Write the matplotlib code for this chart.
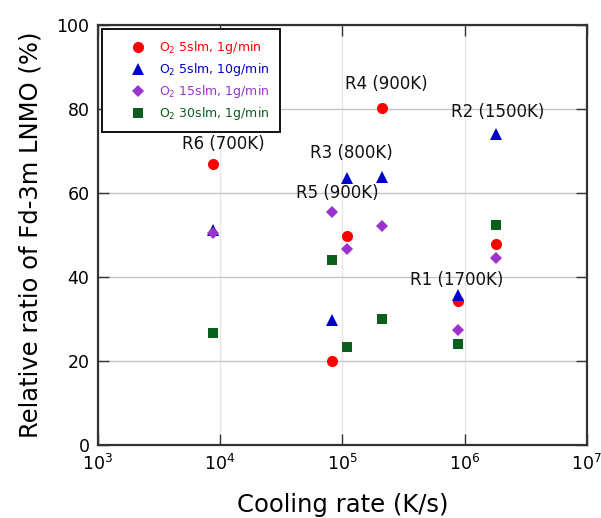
import matplotlib
matplotlib.use("Agg")
import matplotlib.pyplot as plt
from matplotlib.lines import Line2D

# Cooling rates (K/s) for the six runs
cooling_rate = [8.8e3, 8.2e4, 1.1e5, 2.1e5, 8.8e5, 1.8e6]

# Relative ratio of Fd-3m LNMO (%) for each synthesis condition
o2_5slm_1g = [67.0, 20.1, 49.9, 80.3, 34.3, 48.0]
o2_5slm_10g = [51.2, 29.8, 63.7, 63.9, 35.8, 74.0]
o2_15slm_1g = [50.5, 55.5, 46.8, 52.1, 27.4, 44.5]
o2_30slm_1g = [26.8, 44.0, 23.5, 30.1, 24.2, 52.5]

series_labels = [r"O$_2$ 5slm, 1g/min", r"O$_2$ 5slm, 10g/min",
                 r"O$_2$ 15slm, 1g/min", r"O$_2$ 30slm, 1g/min"]

# Run labels and where each one is written
run_labels = ["R6 (700K)", "R5 (900K)", "R3 (800K)", "R4 (900K)", "R1 (1700K)", "R2 (1500K)"]
run_x = [1.06e4, 9.1e4, 1.18e5, 2.27e5, 8.6e5, 1.85e6]
run_y = [71.6, 60.0, 69.6, 86.0, 39.3, 79.3]

colors = ["#ff0000", "#0000cc", "#9933cc", "#0b5e1c"]
markers = ["o", "^", "D", "s"]
msizes = [8, 8, 6, 7.5]
series = [o2_5slm_1g, o2_5slm_10g, o2_15slm_1g, o2_30slm_1g]

fig = plt.figure(figsize=(6.01, 5.18), dpi=100)
ax = fig.add_axes([0.1626, 0.14, 0.814, 0.8117])

ax.set_xscale("log")
ax.set_xlim(1e3, 1e7)
ax.set_ylim(0, 100)
ax.set_xticks([1e3, 1e4, 1e5, 1e6, 1e7])
ax.set_yticks([0, 20, 40, 60, 80, 100])
ax.minorticks_off()

ax.xaxis.grid(True, color="#e6e6e6", linewidth=1.0)
ax.yaxis.grid(True, color="#c4c4c4", linewidth=1.0)
ax.set_axisbelow(True)

for vals, c, m, ms in zip(series, colors, markers, msizes):
    ax.plot(cooling_rate, vals, linestyle="none", marker=m, color=c,
            markersize=ms, markeredgewidth=0, zorder=3)

for lab, xx, yy in zip(run_labels, run_x, run_y):
    ax.text(xx, yy, lab, fontsize=12, ha="center", va="center", color="#111111")

for s in ax.spines.values():
    s.set_color("#333333")
    s.set_linewidth(1.6)

ax.tick_params(axis="both", which="major", direction="in", length=8, width=1.0,
               color="#333333", top=True, right=True, labelsize=12.5, pad=6)

ax.set_xlabel("Cooling rate (K/s)", fontsize=17.5, labelpad=14)
ax.set_ylabel("Relative ratio of Fd-3m LNMO (%)", fontsize=17.5, labelpad=10)

handles = [Line2D([], [], linestyle="none", marker=m, color=c, markersize=ms,
                  markeredgewidth=0)
           for c, m, ms in zip(colors, markers, msizes)]
leg = ax.legend(handles, series_labels, loc="upper left", fontsize=9,
                frameon=True, fancybox=False, framealpha=1, edgecolor="#111111",
                borderpad=0.8, labelspacing=0.4, handletextpad=-0.4,
                handlelength=4.2, borderaxespad=0.32)
leg.get_frame().set_linewidth(1.4)
for t, c in zip(leg.get_texts(), colors):
    t.set_color(c)

fig.savefig("out.png", dpi=100)
